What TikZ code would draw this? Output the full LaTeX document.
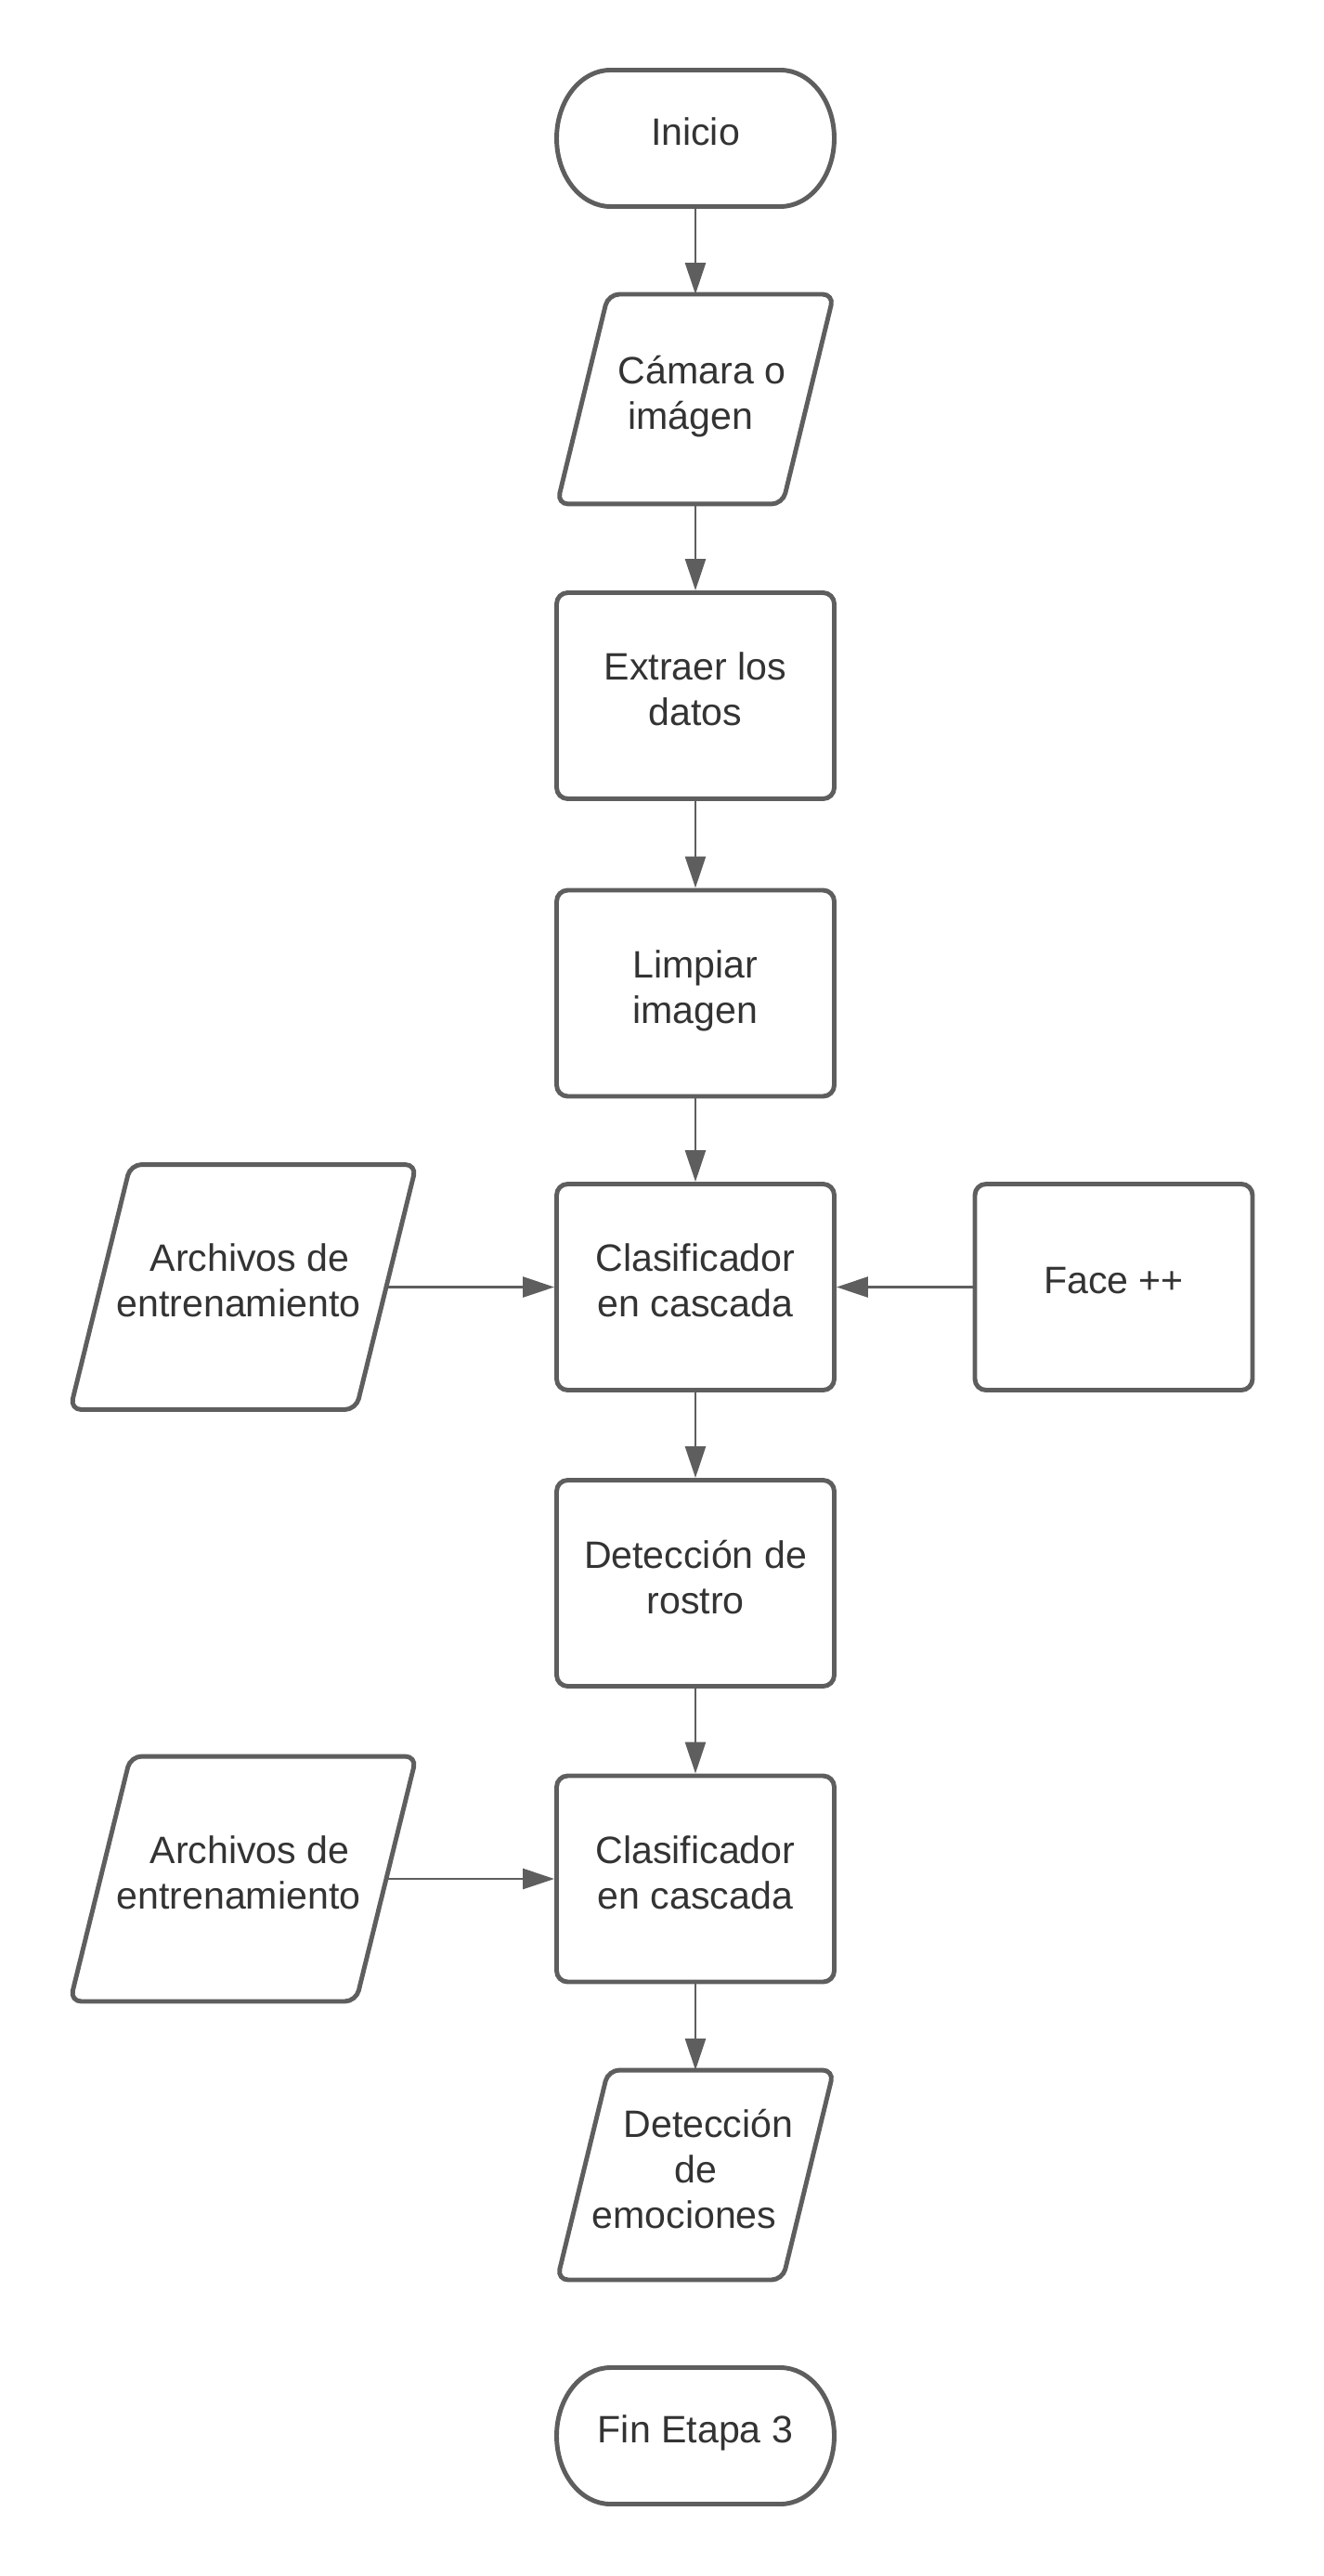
\documentclass[tikz,border=0pt]{standalone}
\usepackage{fontspec}
\setmainfont{Liberation Sans}
\usetikzlibrary{arrows.meta}
\definecolor{linegray}{HTML}{5E5E5E}
\definecolor{textgray}{HTML}{333333}
\tikzset{label font/.style = {text=textgray, font=\fontsize{11.7}{13.95}\selectfont, align=center,
                              text depth=0.14cm}}
\tikzset{outline/.style = {draw=linegray, line width=1.4pt}}
\tikzset{box/.style = {label font, outline, rounded corners=0.12cm,
                       minimum width=2.99cm, minimum height=2.22cm}}
\tikzset{io/.style = {label font, outer sep=0.7pt, minimum width=2.93cm, minimum height=2.21cm}}
\tikzset{term/.style = {label font, outer sep=0pt, minimum width=2.99cm, minimum height=1.47cm}}
\tikzset{link/.style = {draw=linegray, line width=0.75pt, -{Triangle[length=0.34cm, width=0.22cm]}}}
% outline of a start / end node
\newcommand{\termline}[1]{%
  \draw [outline] (#1.west)
    arc [start angle=180, end angle=90, x radius=0.58cm, y radius=0.735cm]
    -- ([xshift=-0.58cm]#1.north east)
    arc [start angle=90, end angle=-90, x radius=0.58cm, y radius=0.735cm]
    -- ([xshift=0.58cm]#1.south west)
    arc [start angle=270, end angle=180, x radius=0.58cm, y radius=0.735cm] -- cycle;}
% outline of an input / output node, #2 is the slant
\newcommand{\ioline}[2]{%
  \draw [outline, rounded corners=0.12cm] (#1.south) -- (#1.south west)
    -- ([xshift=#2]#1.north west) -- (#1.north east)
    -- ([xshift=-#2]#1.south east) -- cycle;}

\begin{document}
\begin{tikzpicture}
      \useasboundingbox (0, 0) rectangle (14.25, -27.75);

      \node [term] (inicio) at (7.49, -1.49) {Inicio};
      \termline{inicio}
      \node [io] (camara) at (7.49, -4.30) {\hspace*{0.14cm}Cámara o\\imágen\hspace*{0.1cm}};
      \ioline{camara}{0.55cm}
      \node [box] (extraer) at (7.49, -7.495) {Extraer los\\datos};
      \node [box] (limpiar) at (7.49, -10.70) {Limpiar\\imagen};
      \node [box] (clasif) at (7.49, -13.865) {Clasificador\\en cascada};
      \node [io, minimum width=3.68cm, minimum height=2.59cm] (archivos) at (2.62, -13.865) {\hspace*{0.14cm}Archivos de\\entrenamiento\hspace*{0.1cm}};
      \ioline{archivos}{0.65cm}
      \node [box] (face) at (11.995, -13.865) {Face ++};
      \node [box] (rostro) at (7.49, -17.055) {Detección de\\rostro};
      \node [box] (clasifdos) at (7.49, -20.24) {Clasificador\\en cascada};
      \node [io, minimum width=3.68cm, minimum height=2.59cm] (archivosdos) at (2.62, -20.24) {\hspace*{0.14cm}Archivos de\\entrenamiento\hspace*{0.1cm}};
      \ioline{archivosdos}{0.65cm}
      \node [io] (emociones) at (7.49, -23.43) {\hspace*{0.28cm}Detección\\de\\emociones\hspace*{0.24cm}};
      \ioline{emociones}{0.55cm}
      \node [term] (fin) at (7.49, -26.24) {Fin Etapa 3};
      \termline{fin}

      \draw [link] (inicio) -- (camara);
      \draw [link] (camara) -- (extraer);
      \draw [link] (extraer) -- (limpiar);
      \draw [link] (limpiar) -- (clasif);
      \draw [link] ([xshift=-0.325cm]archivos.east) -- (clasif.west);
      \draw [link] (face.west) -- (clasif.east);
      \draw [link] (clasif) -- (rostro);
      \draw [link] (rostro) -- (clasifdos);
      \draw [link] ([xshift=-0.325cm]archivosdos.east) -- (clasifdos.west);
      \draw [link] (clasifdos) -- (emociones);
    \end{tikzpicture}
\end{document}
